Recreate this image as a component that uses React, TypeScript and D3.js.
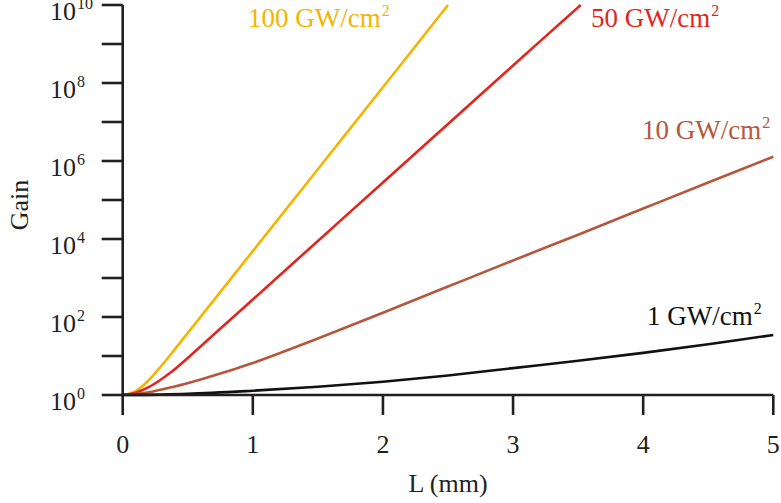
import React from "react";
import * as d3 from "d3";

// L (mm) sample positions and log10(Gain)
const L100 = [0, 0.1, 0.2, 0.3, 0.4, 0.6, 1.0, 1.5, 2.0, 2.5];
const G100 = [0, 0.1, 0.38, 0.76, 1.17, 2.01, 3.69, 5.79, 7.89, 10];
const L50 = [0, 0.1, 0.2, 0.3, 0.4, 0.5, 0.7, 1.0, 1.5, 2.0, 2.5, 3.0, 3.52];
const G50 = [0, 0.06, 0.2, 0.41, 0.66, 0.95, 1.55, 2.45, 3.95, 5.45, 6.95, 8.45, 10];
const L10 = [0, 0.2, 0.4, 0.6, 0.8, 1.0, 1.5, 2.0, 2.5, 3.0, 3.5, 4.0, 4.5, 5.0];
const G10 = [0, 0.07, 0.22, 0.4, 0.6, 0.82, 1.45, 2.11, 2.78, 3.45, 4.11, 4.78, 5.45, 6.11];
const L1 = [0, 0.5, 1.0, 1.5, 2.0, 2.5, 3.0, 3.5, 4.0, 4.5, 5.0];
const G1 = [0, 0.03, 0.11, 0.21, 0.34, 0.5, 0.69, 0.88, 1.08, 1.3, 1.54];

const seriesNames = ["100 GW/cm", "50 GW/cm", "10 GW/cm", "1 GW/cm"];
const seriesColors = ["#F5B400", "#E2261E", "#B5573C", "#111111"];

const xTicks = [0, 1, 2, 3, 4, 5];
const yMajor = [0, 2, 4, 6, 8, 10];
const yMinor = [1, 3, 5, 7, 9];

const FONT = "'Liberation Serif', 'DejaVu Serif', serif";

export default function App() {
  const W = 781, H = 503;
  const x = d3.scaleLinear().domain([0, 5]).range([122.7, 773.3]);
  const y = d3.scaleLinear().domain([0, 10]).range([395, 5]);

  const line = d3
    .line<[number, number]>()
    .x((d) => x(d[0]))
    .y((d) => y(d[1]))
    .curve(d3.curveCatmullRom.alpha(0.5));

  const series = [
    { L: L100, G: G100 },
    { L: L50, G: G50 },
    { L: L10, G: G10 },
    { L: L1, G: G1 },
  ];

  const labelPos = [
    { x: 248, y: 27 },
    { x: 591, y: 27 },
    { x: 642, y: 139 },
    { x: 647, y: 325 },
  ];

  const axisColor = "#231f20";

  return (
    <svg
      width={W}
      height={H}
      style={{ position: "absolute", left: 0, top: 0, background: "#fff" }}
      fontFamily={FONT}
    >
      {/* curves */}
      {series.map((s, i) => (
        <path
          key={i}
          d={line(s.L.map((l, j) => [l, s.G[j]] as [number, number])) || ""}
          fill="none"
          stroke={seriesColors[i]}
          strokeWidth={2.6}
        />
      ))}

      {/* axes */}
      <line x1={x(0)} x2={x(0)} y1={y(10)} y2={y(0)} stroke={axisColor} strokeWidth={2.6} />
      <line x1={x(0)} x2={x(5)} y1={y(0)} y2={y(0)} stroke={axisColor} strokeWidth={2.6} />
      {[...yMajor, ...yMinor].map((t) => (
        <line key={"yt" + t} x1={x(0) - 21} x2={x(0)} y1={y(t)} y2={y(t)} stroke={axisColor} strokeWidth={2.6} />
      ))}
      {xTicks.map((t) => (
        <line key={"xt" + t} x1={x(t)} x2={x(t)} y1={y(0)} y2={y(0) + 20} stroke={axisColor} strokeWidth={2.6} />
      ))}

      {/* y tick labels */}
      {yMajor.map((t) => (
        <g key={"yl" + t}>
          <text x={76} y={y(t) + 15} textAnchor="end" fontSize={26} fill={axisColor}>
            10
          </text>
          <text x={77} y={y(t) + 4} textAnchor="start" fontSize={16} fill={axisColor}>
            {t}
          </text>
        </g>
      ))}

      {/* x tick labels */}
      {xTicks.map((t) => (
        <text key={"xl" + t} x={x(t)} y={453} textAnchor="middle" fontSize={26} fill={axisColor}>
          {t}
        </text>
      ))}

      {/* axis titles */}
      <text x={448} y={492} textAnchor="middle" fontSize={26} fill={axisColor}>
        L (mm)
      </text>
      <text
        transform={`translate(28, 205) rotate(-90)`}
        textAnchor="middle"
        fontSize={26}
        fill={axisColor}
      >
        Gain
      </text>

      {/* series labels */}
      {seriesNames.map((n, i) => (
        <text key={"sl" + i} x={labelPos[i].x} y={labelPos[i].y} fontSize={27} fill={seriesColors[i]}>
          {n}
          <tspan fontSize={16} dx={1} dy={-11}>
            2
          </tspan>
        </text>
      ))}
    </svg>
  );
}
